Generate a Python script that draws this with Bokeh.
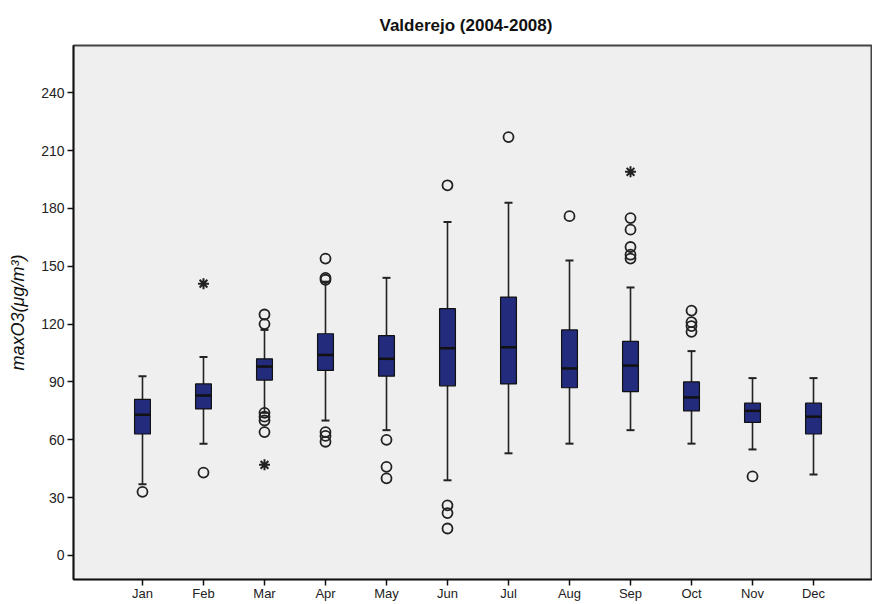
from bokeh.plotting import figure
from bokeh.models import Range1d, FixedTicker, ColumnDataSource, Whisker, TeeHead
from bokeh.embed import file_html
from bokeh.resources import INLINE

months = ["Jan", "Feb", "Mar", "Apr", "May", "Jun", "Jul", "Aug", "Sep", "Oct", "Nov", "Dec"]
whisker_low = [37, 58, 74, 70, 65, 39, 53, 58, 65, 58, 55, 42]
q1 = [63, 76, 91, 96, 93, 88, 89, 87, 85, 75, 69, 63]
median = [73, 83, 98, 104, 102, 107.5, 108, 97, 98.5, 82, 75, 72]
q3 = [81, 89, 102, 115, 114, 128, 134, 117, 111, 90, 79, 79]
whisker_high = [93, 103, 117, 142, 144, 173, 183, 153, 139, 106, 92, 92]

outlier_month = ["Jan", "Feb", "Mar", "Mar", "Mar", "Mar", "Mar", "Mar",
                 "Apr", "Apr", "Apr", "Apr", "Apr", "Apr",
                 "May", "May", "May", "Jun", "Jun", "Jun", "Jun",
                 "Jul", "Aug", "Sep", "Sep", "Sep", "Sep", "Sep",
                 "Oct", "Oct", "Oct", "Oct", "Nov"]
outlier_value = [33, 43, 125, 120, 74, 72, 70, 64,
                 154, 144, 143, 64, 62, 59,
                 60, 46, 40, 192, 26, 22, 14,
                 217, 176, 175, 169, 160, 156, 154,
                 127, 121, 119, 116, 41]

extreme_month = ["Feb", "Mar", "Sep"]
extreme_value = [141, 47, 199]

yticks = [0, 30, 60, 90, 120, 150, 180, 210, 240]

xs = [months.index(m) + 1 for m in months]
box_src = ColumnDataSource(dict(x=xs, lo=whisker_low, q1=q1, med=median, q3=q3, hi=whisker_high))
out_src = ColumnDataSource(dict(x=[months.index(m) + 1 for m in outlier_month], y=outlier_value))
ext_src = ColumnDataSource(dict(x=[months.index(m) + 1 for m in extreme_month], y=extreme_value))

FONT = "Liberation Sans"

p = figure(frame_width=799, frame_height=534,
           x_range=Range1d(-0.131, 12.967), y_range=Range1d(-12.45, 264.5),
           output_backend="svg", toolbar_location=None,
           min_border_left=73, min_border_right=0, min_border_top=45, min_border_bottom=0,
           background_fill_color="#efefef", border_fill_color="white")

p.title.text = "Valderejo (2004-2008)"
p.title.text_font = FONT
p.title.text_font_size = "17px"
p.title.text_font_style = "bold"
p.title.align = "left"
p.title.offset = 306
p.title.standoff = 22
p.title.text_color = "#111111"

p.outline_line_color = "#444444"
p.outline_line_width = 2
p.xgrid.visible = False
p.ygrid.visible = False

w = Whisker(source=box_src, base="x", upper="hi", lower="lo", dimension="height",
            line_color="#222222", line_width=1.6, level="underlay",
            upper_head=TeeHead(size=8, line_width=2, line_color="#222222"),
            lower_head=TeeHead(size=8, line_width=2, line_color="#222222"))
p.add_layout(w)

p.vbar(x="x", width=0.26, top="q3", bottom="q1", source=box_src,
       fill_color="#232b7c", line_color="#111111", line_width=1.2)
p.scatter(x="x", y="med", source=box_src, marker="dash", size=16,
          line_color="#111111", line_width=2.5)

p.scatter(x="x", y="y", source=out_src, marker="circle", size=10,
          fill_color=None, line_color="#222222", line_width=1.8)
p.scatter(x="x", y="y", source=ext_src, marker="asterisk", size=11,
          line_color="#222222", line_width=2)

p.xaxis.ticker = FixedTicker(ticks=xs)
p.xaxis.major_label_overrides = {x: m for x, m in zip(xs, months)}
p.yaxis.ticker = FixedTicker(ticks=yticks)
p.yaxis.axis_label = "maxO3(\u03bcg/m\u00b3)"
p.yaxis.axis_label_text_font_style = "italic"
p.yaxis.axis_label_text_font_size = "18px"
p.yaxis.axis_label_text_font = FONT
p.yaxis.axis_label_text_color = "#111111"
p.yaxis.axis_label_standoff = 10

for ax in (p.xaxis, p.yaxis):
    ax.axis_line_color = "#111111"
    ax.axis_line_width = 1.6
    ax.major_tick_line_color = "#111111"
    ax.major_tick_line_width = 1.5
    ax.major_tick_out = 6
    ax.major_tick_in = 0
    ax.minor_tick_line_color = None
    ax.major_label_text_font = FONT
    ax.major_label_text_color = "#222222"
p.xaxis.major_label_standoff = 0
p.yaxis.major_label_standoff = 3
p.xaxis.major_label_text_font_size = "13px"
p.yaxis.major_label_text_font_size = "14px"

open("out.html", "w").write(file_html(p, INLINE))
